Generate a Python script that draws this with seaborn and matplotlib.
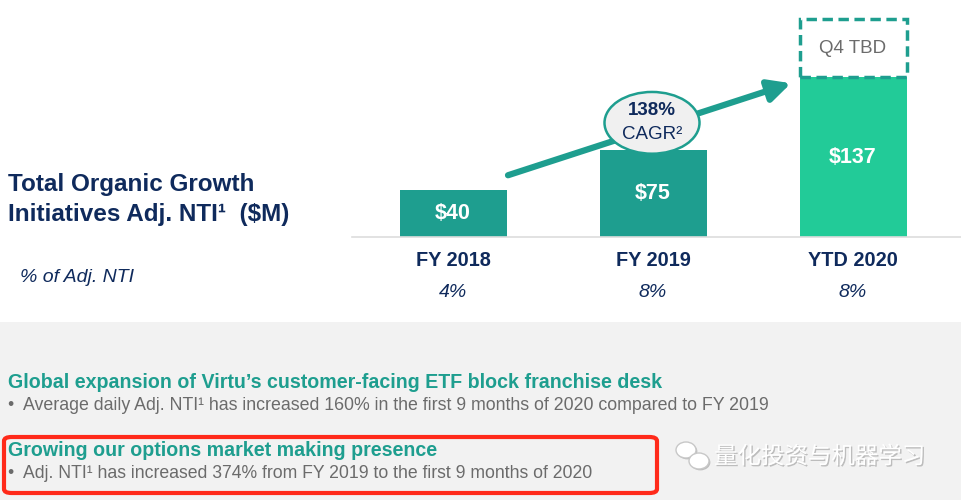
import pandas as pd
import seaborn as sns
import matplotlib.pyplot as plt
import matplotlib.patheffects as pe
from matplotlib.patches import Ellipse, FancyBboxPatch, Rectangle

# Chart data
periods = ["FY 2018", "FY 2019", "YTD 2020"]
adj_nti = [40, 75, 137]            # $M
q4_tbd = [0, 0, 50]                # placeholder block above YTD bar
pct_of_nti = ["4%", "8%", "8%"]
cagr_label = "138%"

df = pd.DataFrame({"period": periods, "nti": adj_nti, "q4": q4_tbd})

navy = "#0f2a5c"
teal = "#1e9e8f"
green = "#22cb98"
gray_text = "#6b6b6b"

sns.set_theme(style="white")
plt.rcParams["font.family"] = ["Liberation Sans", "DejaVu Sans"]

fig = plt.figure(figsize=(9.61, 5.00), dpi=100)
fig.patch.set_facecolor("white")

# light gray lower panel
fig.patches.append(Rectangle((0, 0), 1, 1 - 322 / 500, transform=fig.transFigure,
                             facecolor="#f2f2f2", edgecolor="none", zorder=0))

ax = fig.add_axes([352 / 961, 1 - 237 / 500, 609 / 961, 227 / 500])
ax.set_facecolor("none")

bar_colors = [teal, teal, green]
sns.barplot(data=df, x="period", y="nti", hue="period", palette=bar_colors,
            legend=False, ax=ax, width=0.535, saturation=1, linewidth=0)
# dashed Q4 placeholder stacked on the YTD bar
sns.barplot(data=df, x="period", y="q4", ax=ax, color="white", fill=False,
            width=0.535, bottom=df["nti"], edgecolor=teal, linewidth=2.5,
            linestyle=(0, (3, 1.6)), saturation=1)
for p in ax.patches[3:]:
    if p.get_height() == 0:
        p.set_visible(False)

ax.set_xlim(-0.505, 2.54)
ax.set_ylim(0, 227 / 1.165)
ax.set_xlabel("")
ax.set_ylabel("")
ax.set_xticks([])
ax.set_yticks([])
for s in ["top", "right", "left"]:
    ax.spines[s].set_visible(False)
ax.spines["bottom"].set_color("#dddddd")
ax.spines["bottom"].set_linewidth(1.2)

for i, (v, q) in enumerate(zip(adj_nti, q4_tbd)):
    ax.text(i, v / 2, f"${v}", ha="center", va="center", color="white",
            fontsize=15.5, fontweight="bold")
    if q > 0:
        ax.text(i, v + q / 2, "Q4 TBD", ha="center", va="center",
                color=gray_text, fontsize=13.5)
    ax.text(i, -20, periods[i], ha="center", va="center", color=navy,
            fontsize=14.3, fontweight="bold", clip_on=False)
    ax.text(i, -48, pct_of_nti[i], ha="center", va="center", color=navy,
            fontsize=14, style="italic", clip_on=False)

# growth arrow
ax.annotate("", xy=(1.69, 132), xytext=(0.275, 53),
            arrowprops=dict(arrowstyle="-|>,head_length=1.1,head_width=0.55",
                            color=teal, lw=4.5, shrinkA=0, shrinkB=0))
ax.add_patch(Ellipse((0.995, 98), 0.475, 53, facecolor="#f0f0f0",
                     edgecolor=teal, linewidth=1.8, zorder=5))
ax.text(0.995, 109, cagr_label, ha="center", va="center", color=navy,
        fontsize=13.5, fontweight="bold", zorder=6)
ax.text(0.995, 88, "CAGR²", ha="center", va="center", color=navy,
        fontsize=13.5, zorder=6)

# left-side titles
fig.text(8 / 961, 1 - 184 / 500, "Total Organic Growth", color=navy,
         fontsize=17.5, fontweight="bold", va="center")
fig.text(8 / 961, 1 - 215 / 500, "Initiatives Adj. NTI¹  ($M)", color=navy,
         fontsize=17.5, fontweight="bold", va="center")
fig.text(20 / 961, 1 - 277 / 500, "% of Adj. NTI", color=navy,
         fontsize=14, style="italic", va="center")

# bottom notes
fig.text(8 / 961, 1 - 383 / 500,
         "Global expansion of Virtu’s customer-facing ETF block franchise desk",
         color=teal, fontsize=14.1, fontweight="bold", va="center")
fig.text(8 / 961, 1 - 406 / 500,
         "•  Average daily Adj. NTI¹ has increased 160% in the first 9 months of 2020 compared to FY 2019",
         color=gray_text, fontsize=12.8, va="center")
fig.text(8 / 961, 1 - 451 / 500, "Growing our options market making presence",
         color=teal, fontsize=14.1, fontweight="bold", va="center")
fig.text(8 / 961, 1 - 473 / 500,
         "•  Adj. NTI¹ has increased 374% from FY 2019 to the first 9 months of 2020",
         color=gray_text, fontsize=12.7, va="center")

# red highlight box
fig.patches.append(FancyBboxPatch((4 / 961, 1 - 493 / 500), 653 / 961, 56 / 500,
                                  boxstyle="round,pad=0,rounding_size=0.008",
                                  transform=fig.transFigure, facecolor="none",
                                  edgecolor="#ff2a1a", linewidth=3, zorder=3))

# watermark
shadow = [pe.withSimplePatchShadow(offset=(1, -1), shadow_rgbFace="#9a9a9a", alpha=0.6)]
for cx, cy, w, h in [(686, 450, 20, 16), (699, 461, 20, 16)]:
    e = Ellipse((cx / 961, 1 - cy / 500), w / 961, h / 500, transform=fig.transFigure,
                facecolor="white", edgecolor="#c8c8c8", linewidth=1)
    e.set_path_effects(shadow)
    fig.patches.append(e)
fig.text(714 / 961, 1 - 457 / 500, "量化投资与机器学习", color="white",
         fontsize=16.9, va="center", family=["Noto Sans CJK SC", "DejaVu Sans"],
         path_effects=shadow)

fig.savefig("out.png", dpi=100)
